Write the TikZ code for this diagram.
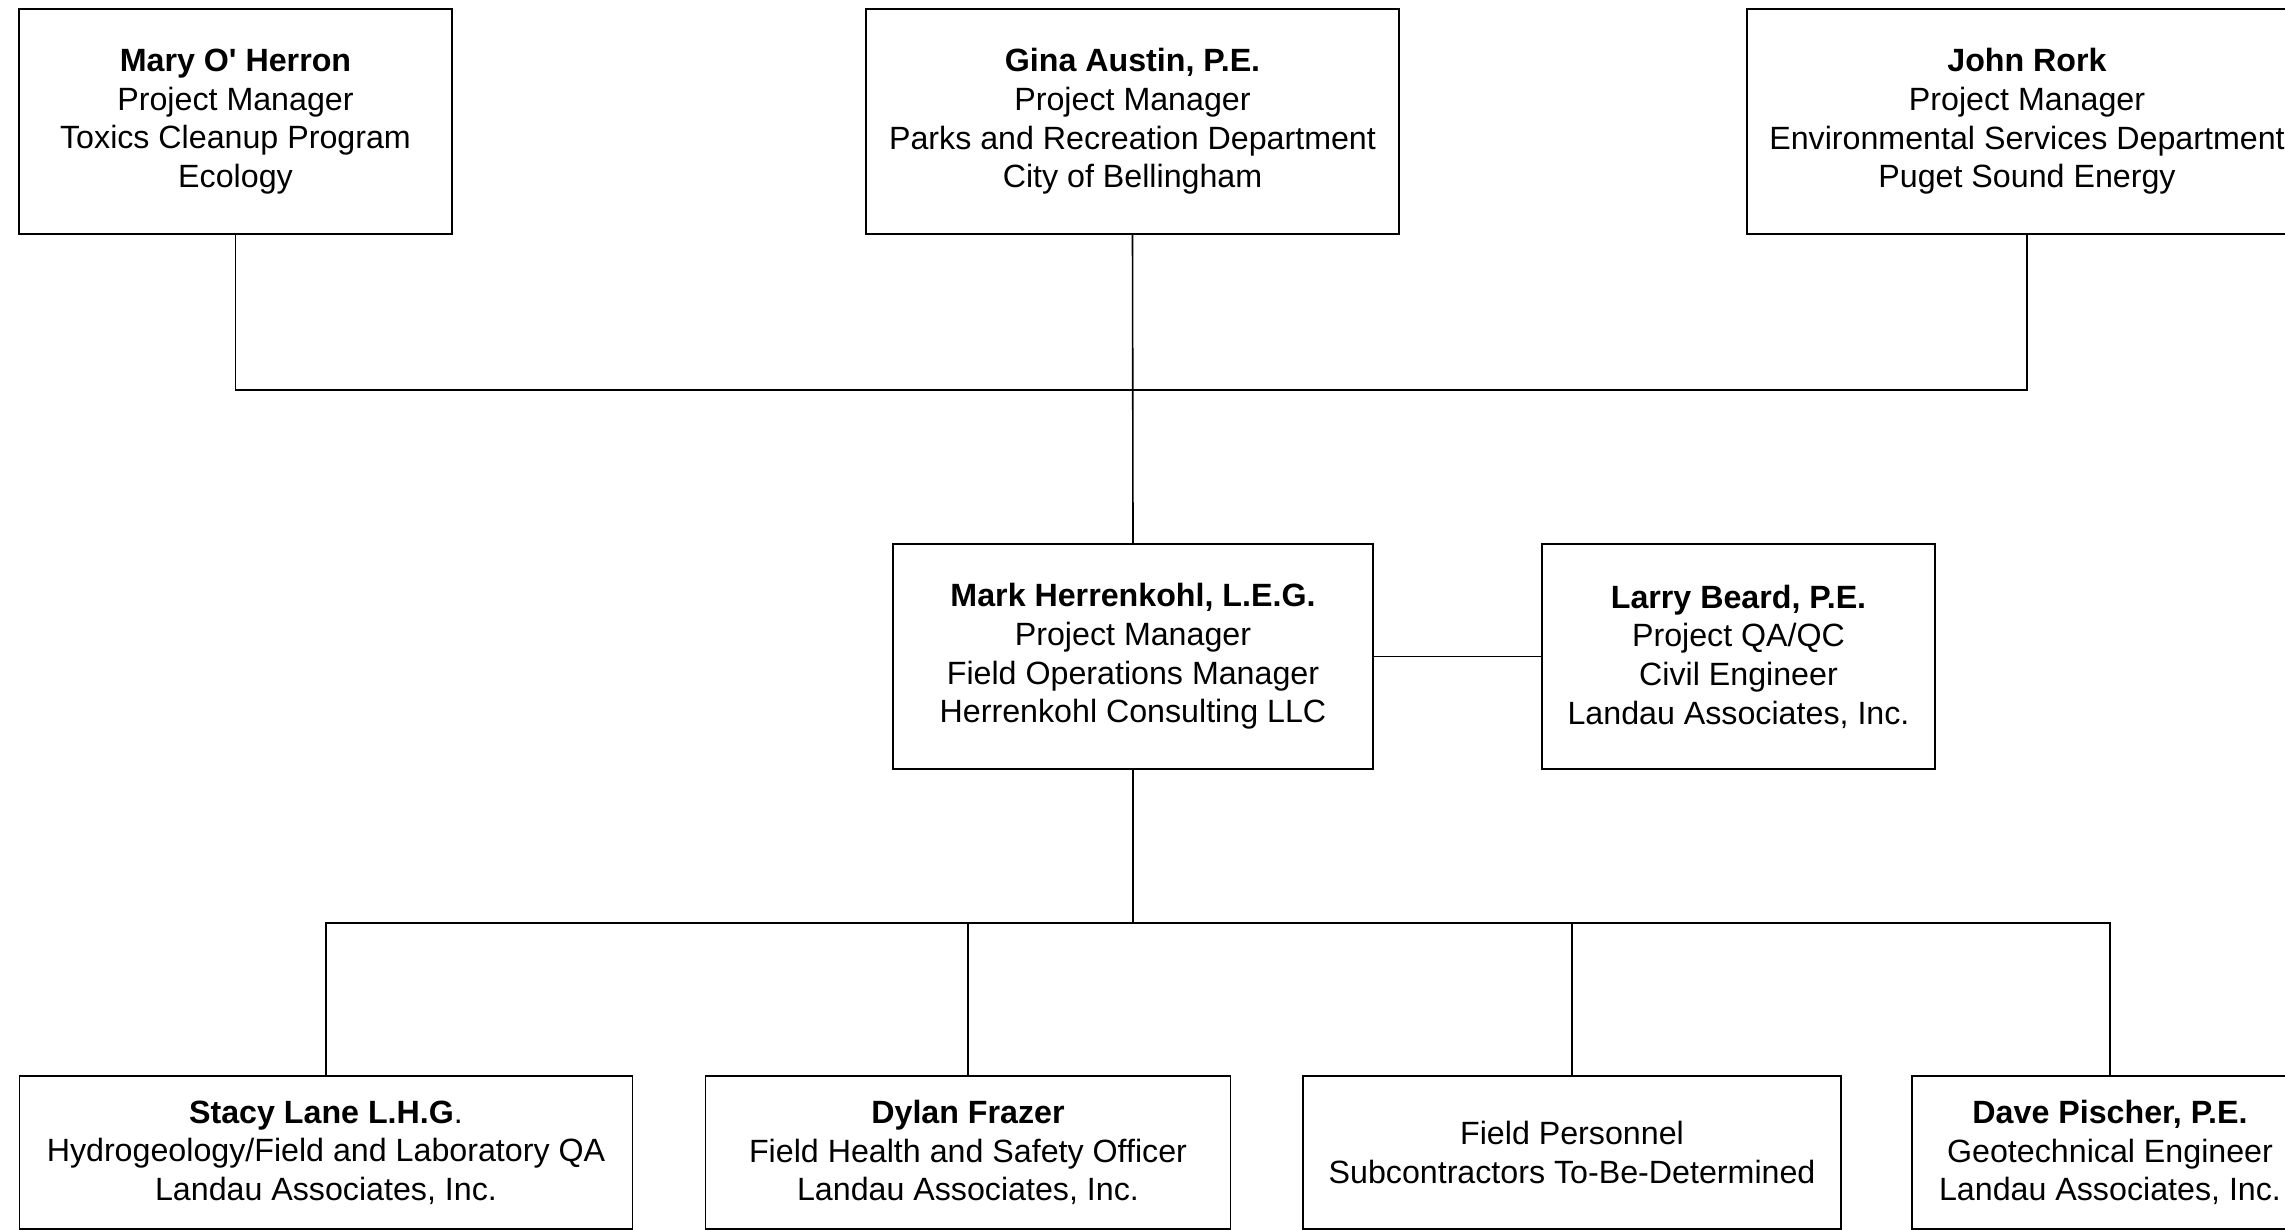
\documentclass[tikz,border=0pt]{standalone}
\usepackage{fontspec}
\setmainfont{Liberation Sans}
\begin{document}
\begin{tikzpicture}[x=0.5pt,y=-0.5pt,
  box/.style={draw=black,line width=0.9pt,rectangle,inner sep=0pt,align=center,
    font=\fontsize{16.1pt}{19.3pt}\selectfont},
  tallbox/.style={box,minimum height=112.5pt},
  lowbox/.style={box,minimum height=76.5pt},
  conn/.style={draw=black,line width=0.8pt}]
\useasboundingbox (0,0) rectangle (2285,1230);
\clip (0,0) rectangle (2285,1230);
\fill[white] (0,0) rectangle (2285,1230);
% top row
\node[tallbox,minimum width=216.5pt] (mary) at (235.5,121.5)
  {\textbf{Mary O\textquotesingle\ Herron}\\Project Manager\\Toxics Cleanup Program\\Ecology};
\node[tallbox,minimum width=266.5pt] (gina) at (1132.5,121.5)
  {\textbf{Gina Austin, P.E.}\\Project Manager\\Parks and Recreation Department\\City of Bellingham};
\node[tallbox,minimum width=280pt] (john) at (2027,121.5)
  {\textbf{John Rork}\\Project Manager\\Environmental Services Department\\Puget Sound Energy};
% middle row
\node[tallbox,minimum width=240pt] (mark) at (1133,656.5)
  {\textbf{Mark Herrenkohl, L.E.G.}\\Project Manager\\Field Operations Manager\\Herrenkohl Consulting LLC};
\node[tallbox,minimum width=196.5pt] (larry) at (1738.5,656.5)
  {\textbf{Larry Beard, P.E.}\\Project QA/QC\\Civil Engineer\\Landau Associates, Inc.};
% bottom row
\node[lowbox,minimum width=306.5pt] (stacy) at (326,1152.5)
  {\textbf{Stacy Lane L.H.G}.\\Hydrogeology/Field and Laboratory QA\\Landau Associates, Inc.};
\node[lowbox,minimum width=262.5pt] (dylan) at (968,1152.5)
  {\textbf{Dylan Frazer}\\Field Health and Safety Officer\\Landau Associates, Inc.};
\node[lowbox,minimum width=269pt] (field) at (1572,1152.5)
  {Field Personnel\\Subcontractors To-Be-Determined};
\node[lowbox,minimum width=198pt] (dave) at (2110,1152.5)
  {\textbf{Dave Pischer, P.E.}\\Geotechnical Engineer\\Landau Associates, Inc.};
% buses
\coordinate (bus1) at (1132.5,390);
\coordinate (bus2) at (1133,923);
\draw[conn] (mary.south) |- (john.south |- bus1) -- (john.south);
\draw[conn] (gina.south) -- (mark.north);
\draw[conn] (mark.east) -- (larry.west);
\draw[conn] (mark.south) -- (bus2);
\draw[conn] (stacy.north) |- (dave.north |- bus2) -- (dave.north);
\draw[conn] (dylan.north) -- (dylan.north |- bus2);
\draw[conn] (field.north) -- (field.north |- bus2);
\end{tikzpicture}
\end{document}
